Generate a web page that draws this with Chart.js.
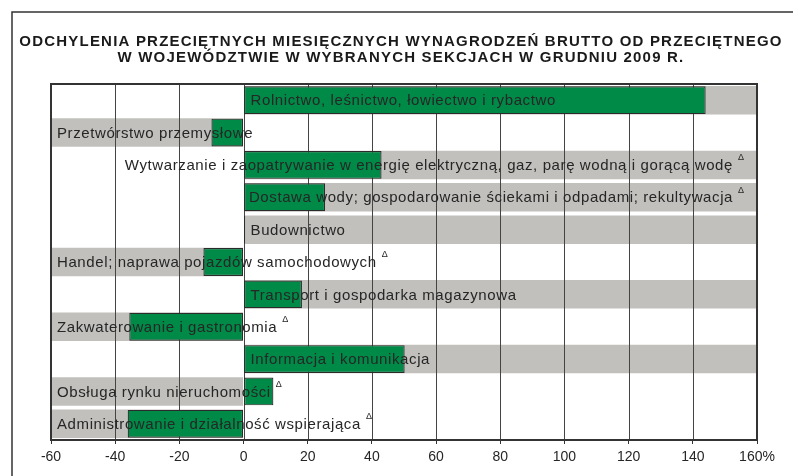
<!DOCTYPE html>
<html>
<head>
<meta charset="utf-8">
<script src="https://cdn.jsdelivr.net/npm/chart.js@4"></script>
<style>
  body { margin: 0; background: #fff; }
  #wrap { width: 793px; height: 476px; }
</style>
</head>
<body>
<div id="wrap"><canvas id="myChart"></canvas></div>
<script>
// sekcje PKD, odchylenie od przeciętnego wynagrodzenia w województwie (%)
var categories = [
  "Rolnictwo, leśnictwo, łowiectwo i rybactwo",
  "Przetwórstwo przemysłowe",
  "Wytwarzanie i zaopatrywanie w energię elektryczną, gaz, parę wodną i gorącą wodę",
  "Dostawa wody; gospodarowanie ściekami i odpadami; rekultywacja",
  "Budownictwo",
  "Handel; naprawa pojazdów samochodowych",
  "Transport i gospodarka magazynowa",
  "Zakwaterowanie i gastronomia",
  "Informacja i komunikacja",
  "Obsługa rynku nieruchomości",
  "Administrowanie i działalność wspierająca"
];
var values = [144, -10, 43, 25.4, 0.5, -12.5, 18.2, -35.6, 50.2, 9.3, -36.1];
// po której stronie zera stoi opis (i szary pas)
var labelSide = ['R', 'L', 'R', 'R', 'R', 'L', 'R', 'L', 'R', 'L', 'L'];
// sekcje oznaczone trójkątem
var marked = [false, false, true, true, false, true, false, true, false, true, true];
var xMin = -60, xMax = 160, xStep = 20;
var titleLines = [
  "ODCHYLENIA PRZECIĘTNYCH MIESIĘCZNYCH WYNAGRODZEŃ BRUTTO OD PRZECIĘTNEGO",
  "W WOJEWÓDZTWIE W WYBRANYCH SEKCJACH W GRUDNIU 2009 R."
];

var GREEN = "#008a47";
var BAND = "#c1c0bd";
var INK = "#262626";
var FONT = '"Liberation Sans", Arial, sans-serif';

var bands = labelSide.map(function (s) { return s === 'R' ? [0, xMax] : [xMin, 0]; });

var decor = {
  id: 'decor',
  beforeDraw: function (chart) {
    var ctx = chart.ctx;
    ctx.save();
    ctx.fillStyle = '#fff';
    ctx.fillRect(0, 0, chart.width, chart.height);
    ctx.strokeStyle = '#333';
    ctx.lineWidth = 1.5;
    ctx.strokeRect(12, 12, chart.width + 20, chart.height + 20);

    ctx.fillStyle = '#1a1a1a';
    ctx.font = 'bold 15px ' + FONT;
    ctx.letterSpacing = '1.2px';
    ctx.textAlign = 'center';
    ctx.textBaseline = 'middle';
    ctx.fillText(titleLines[0], 401, 42);
    ctx.fillText(titleLines[1], 401, 58);
    ctx.restore();
  },
  beforeDatasetDraw: function (chart, args) {
    if (args.index !== 0) return;
    // linie siatki nad szarymi pasami, pod słupkami
    var ctx = chart.ctx, x = chart.scales.x, a = chart.chartArea;
    ctx.save();
    ctx.strokeStyle = '#444';
    ctx.lineWidth = 1;
    for (var v = xMin + xStep; v < xMax; v += xStep) {
      var px = Math.round(x.getPixelForValue(v)) + 0.5;
      ctx.beginPath();
      ctx.moveTo(px, a.top);
      ctx.lineTo(px, a.bottom);
      ctx.stroke();
    }
    ctx.restore();
  },
  afterDatasetsDraw: function (chart) {
    var ctx = chart.ctx, x = chart.scales.x, y = chart.scales.y, a = chart.chartArea;
    ctx.save();
    ctx.textBaseline = 'middle';
    ctx.fillStyle = INK;
    categories.forEach(function (c, i) {
      ctx.font = '15px ' + FONT;
      ctx.letterSpacing = '0.6px';
      var yc = y.getPixelForValue(i);
      var w = ctx.measureText(c).width;
      var sx = labelSide[i] === 'R' ? x.getPixelForValue(0) + 7 : a.left + 6;
      if (sx + w > a.right - 24) sx = a.right - 24 - w;
      ctx.fillText(c, sx, yc + 1);
      if (marked[i]) {
        ctx.font = '9px ' + FONT;
        ctx.letterSpacing = '0px';
        ctx.fillText('Δ', sx + w + 5, yc - 7);
      }
    });
    ctx.strokeStyle = '#333';
    ctx.lineWidth = 2;
    ctx.strokeRect(a.left, a.top, a.right - a.left, a.bottom - a.top);
    ctx.restore();
  }
};

var ctx = document.getElementById('myChart').getContext('2d');
var myChart = new Chart(ctx, {
  type: 'bar',
  data: {
    labels: categories,
    datasets: [{
      data: values,
      backgroundColor: GREEN,
      borderColor: '#2b2b2b',
      borderWidth: 1.2,
      borderSkipped: false,
      categoryPercentage: 1,
      barPercentage: 0.86,
      grouped: false
    }, {
      data: bands,
      backgroundColor: BAND,
      borderWidth: 0,
      categoryPercentage: 1,
      barPercentage: 0.88,
      grouped: false
    }]
  },
  options: {
    indexAxis: 'y',
    responsive: true,
    maintainAspectRatio: false,
    animation: false,
    layout: { padding: { left: 51, right: 36, top: 84, bottom: 6 } },
    plugins: {
      legend: { display: false },
      title: { display: false },
      tooltip: { enabled: false }
    },
    scales: {
      y: { display: false },
      x: {
        min: xMin,
        max: xMax,
        afterFit: function (s) { s.height = 30; },
        grid: { drawOnChartArea: false, drawTicks: true, tickLength: 4, color: '#333' },
        border: { display: false },
        ticks: {
          stepSize: xStep,
          padding: 5,
          color: INK,
          font: { family: FONT, size: 14 },
          callback: function (v) { return v === xMax ? v + '%' : v; }
        }
      }
    }
  },
  plugins: [decor]
});
</script>
</body>
</html>
